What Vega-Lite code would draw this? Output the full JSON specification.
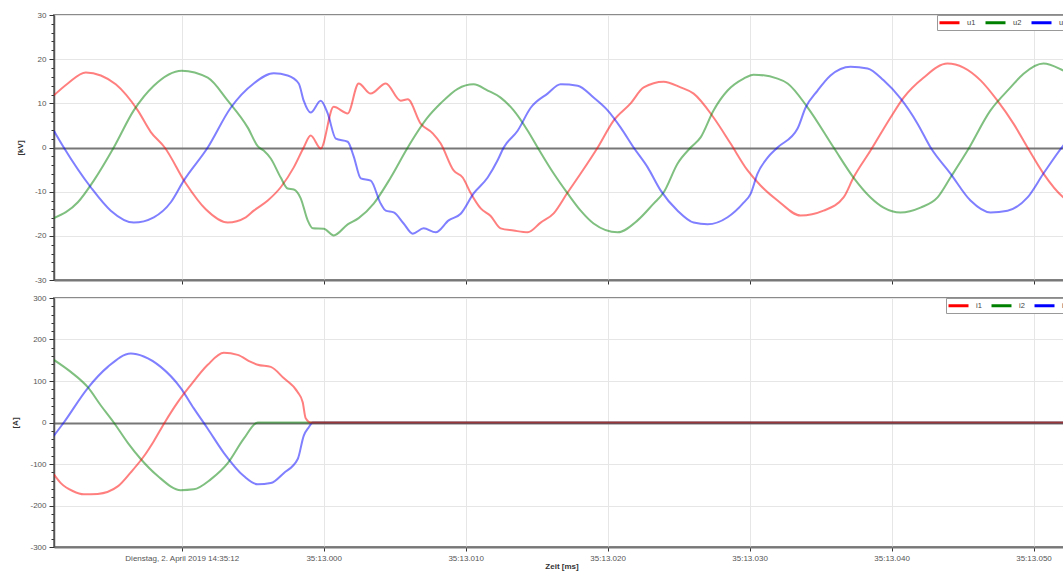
{
  "$schema": "https://vega.github.io/schema/vega-lite/v6.json",
  "background": "white",
  "padding": {"left": 10, "top": 10, "right": 0, "bottom": 0},
  "spacing": 7,
  "config": {
    "view": {"stroke": "#8a8a8a", "strokeWidth": 2},
    "axis": {
      "labelFont": "Liberation Sans", "labelFontSize": 8, "labelColor": "#555",
      "titleFont": "Liberation Sans", "titleFontSize": 8, "titleFontWeight": "bold", "titleColor": "#333",
      "domainColor": "#666", "tickColor": "#333", "gridColor": "#e6e6e6"
    },
    "legend": {
      "orient": "top-right", "direction": "horizontal", "offset": 0, "title": null,
      "symbolType": "M-2,0H2", "symbolStrokeWidth": 3, "symbolSize": 100, "symbolOpacity": 1, "symbolOffset": 5,
      "labelFont": "Liberation Sans", "labelFontSize": 7.5, "labelColor": "#444", "labelOffset": 11,
      "columnPadding": 3, "rowPadding": 0, "strokeColor": "#999", "fillColor": "white", "padding": 1
    }
  },
  "resolve": {"scale": {"color": "independent", "y": "independent"}, "legend": {"color": "independent"}},
  "datasets": {
    "w": [
      {"p":"U","s":"u1","t":-19.01,"v":11.8},{"p":"U","s":"u1","t":-18.03,"v":14.5},{"p":"U","s":"u1","t":-16.76,"v":17.0},{"p":"U","s":"u1","t":-15.70,"v":16.3},{"p":"U","s":"u1","t":-14.65,"v":14.3},{"p":"U","s":"u1","t":-13.10,"v":8.4},{"p":"U","s":"u1","t":-12.18,"v":3.5},{"p":"U","s":"u1","t":-11.20,"v":0},{"p":"U","s":"u1","t":-9.72,"v":-8.1},{"p":"U","s":"u1","t":-8.31,"v":-14.0},{"p":"U","s":"u1","t":-6.76,"v":-17.0},{"p":"U","s":"u1","t":-5.49,"v":-15.8},{"p":"U","s":"u1","t":-4.93,"v":-14.3},{"p":"U","s":"u1","t":-3.94,"v":-12.0},{"p":"U","s":"u1","t":-3.03,"v":-9.0},{"p":"U","s":"u1","t":-2.11,"v":-4.5},{"p":"U","s":"u1","t":-1.41,"v":0},{"p":"U","s":"u1","t":-0.92,"v":2.7},{"p":"U","s":"u1","t":-0.21,"v":-0.2},{"p":"U","s":"u1","t":0.70,"v":9.2},{"p":"U","s":"u1","t":1.69,"v":7.7},{"p":"U","s":"u1","t":2.46,"v":14.5},{"p":"U","s":"u1","t":3.31,"v":12.2},{"p":"U","s":"u1","t":4.37,"v":14.5},{"p":"U","s":"u1","t":5.42,"v":10.6},{"p":"U","s":"u1","t":5.92,"v":10.9},{"p":"U","s":"u1","t":6.83,"v":5.4},{"p":"U","s":"u1","t":7.68,"v":3.2},{"p":"U","s":"u1","t":8.24,"v":0.9},{"p":"U","s":"u1","t":9.15,"v":-5.2},{"p":"U","s":"u1","t":9.79,"v":-6.8},{"p":"U","s":"u1","t":10.35,"v":-10.3},{"p":"U","s":"u1","t":11.06,"v":-13.8},{"p":"U","s":"u1","t":11.76,"v":-15.5},{"p":"U","s":"u1","t":12.46,"v":-18.3},{"p":"U","s":"u1","t":13.38,"v":-18.8},{"p":"U","s":"u1","t":14.37,"v":-19.2},{"p":"U","s":"u1","t":15.28,"v":-17.0},{"p":"U","s":"u1","t":16.20,"v":-14.9},{"p":"U","s":"u1","t":17.18,"v":-10.2},{"p":"U","s":"u1","t":18.10,"v":-5.9},{"p":"U","s":"u1","t":19.30,"v":0},{"p":"U","s":"u1","t":20.42,"v":6.1},{"p":"U","s":"u1","t":21.62,"v":10.0},{"p":"U","s":"u1","t":22.54,"v":13.6},{"p":"U","s":"u1","t":23.94,"v":14.9},{"p":"U","s":"u1","t":25.14,"v":13.6},{"p":"U","s":"u1","t":26.06,"v":12.2},{"p":"U","s":"u1","t":27.46,"v":6.8},{"p":"U","s":"u1","t":28.66,"v":0.9},{"p":"U","s":"u1","t":29.86,"v":-5.2},{"p":"U","s":"u1","t":30.77,"v":-8.6},{"p":"U","s":"u1","t":31.97,"v":-12.0},{"p":"U","s":"u1","t":33.59,"v":-15.4},{"p":"U","s":"u1","t":35.21,"v":-14.3},{"p":"U","s":"u1","t":36.62,"v":-11.3},{"p":"U","s":"u1","t":37.32,"v":-6.8},{"p":"U","s":"u1","t":38.52,"v":-0.7},{"p":"U","s":"u1","t":39.93,"v":6.8},{"p":"U","s":"u1","t":40.85,"v":11.3},{"p":"U","s":"u1","t":42.25,"v":15.8},{"p":"U","s":"u1","t":43.94,"v":19.0},{"p":"U","s":"u1","t":45.07,"v":18.1},{"p":"U","s":"u1","t":46.27,"v":15.2},{"p":"U","s":"u1","t":47.46,"v":10.6},{"p":"U","s":"u1","t":48.59,"v":5.4},{"p":"U","s":"u1","t":49.58,"v":0},{"p":"U","s":"u1","t":50.70,"v":-5.9},{"p":"U","s":"u1","t":52.11,"v":-11.3},{"p":"U","s":"u1","t":52.5,"v":-12.2},

      {"p":"U","s":"u2","t":-19.01,"v":-16.0},{"p":"U","s":"u2","t":-17.32,"v":-12.4},{"p":"U","s":"u2","t":-16.20,"v":-7.5},{"p":"U","s":"u2","t":-14.79,"v":0},{"p":"U","s":"u2","t":-13.38,"v":8.4},{"p":"U","s":"u2","t":-11.97,"v":14.0},{"p":"U","s":"u2","t":-10.00,"v":17.4},{"p":"U","s":"u2","t":-8.17,"v":15.8},{"p":"U","s":"u2","t":-6.76,"v":10.6},{"p":"U","s":"u2","t":-5.35,"v":4.5},{"p":"U","s":"u2","t":-4.65,"v":0.3},{"p":"U","s":"u2","t":-4.23,"v":-0.7},{"p":"U","s":"u2","t":-3.73,"v":-2.5},{"p":"U","s":"u2","t":-3.03,"v":-6.8},{"p":"U","s":"u2","t":-2.54,"v":-9.3},{"p":"U","s":"u2","t":-2.11,"v":-9.5},{"p":"U","s":"u2","t":-1.62,"v":-11.5},{"p":"U","s":"u2","t":-1.13,"v":-16.5},{"p":"U","s":"u2","t":-0.77,"v":-18.3},{"p":"U","s":"u2","t":0,"v":-18.4},{"p":"U","s":"u2","t":0.70,"v":-19.9},{"p":"U","s":"u2","t":1.69,"v":-17.4},{"p":"U","s":"u2","t":2.46,"v":-16.0},{"p":"U","s":"u2","t":3.52,"v":-12.7},{"p":"U","s":"u2","t":4.72,"v":-6.8},{"p":"U","s":"u2","t":5.92,"v":0},{"p":"U","s":"u2","t":7.32,"v":6.8},{"p":"U","s":"u2","t":8.24,"v":10.0},{"p":"U","s":"u2","t":9.44,"v":13.3},{"p":"U","s":"u2","t":10.56,"v":14.3},{"p":"U","s":"u2","t":11.55,"v":12.9},{"p":"U","s":"u2","t":12.46,"v":11.3},{"p":"U","s":"u2","t":13.38,"v":8.4},{"p":"U","s":"u2","t":14.37,"v":3.8},{"p":"U","s":"u2","t":15.07,"v":0},{"p":"U","s":"u2","t":16.20,"v":-5.9},{"p":"U","s":"u2","t":17.18,"v":-10.4},{"p":"U","s":"u2","t":18.10,"v":-14.3},{"p":"U","s":"u2","t":19.01,"v":-17.2},{"p":"U","s":"u2","t":20.70,"v":-19.2},{"p":"U","s":"u2","t":22.11,"v":-16.5},{"p":"U","s":"u2","t":23.24,"v":-12.7},{"p":"U","s":"u2","t":23.94,"v":-10.2},{"p":"U","s":"u2","t":24.93,"v":-3.6},{"p":"U","s":"u2","t":25.85,"v":0},{"p":"U","s":"u2","t":26.55,"v":2.3},{"p":"U","s":"u2","t":27.46,"v":8.4},{"p":"U","s":"u2","t":28.45,"v":12.9},{"p":"U","s":"u2","t":29.58,"v":15.6},{"p":"U","s":"u2","t":30.28,"v":16.5},{"p":"U","s":"u2","t":31.97,"v":15.6},{"p":"U","s":"u2","t":32.68,"v":14.5},{"p":"U","s":"u2","t":34.08,"v":9.1},{"p":"U","s":"u2","t":35.92,"v":0},{"p":"U","s":"u2","t":37.32,"v":-6.8},{"p":"U","s":"u2","t":38.52,"v":-11.3},{"p":"U","s":"u2","t":39.44,"v":-13.6},{"p":"U","s":"u2","t":40.63,"v":-14.7},{"p":"U","s":"u2","t":42.04,"v":-13.6},{"p":"U","s":"u2","t":43.24,"v":-11.3},{"p":"U","s":"u2","t":44.15,"v":-6.8},{"p":"U","s":"u2","t":45.35,"v":-0.7},{"p":"U","s":"u2","t":46.97,"v":8.4},{"p":"U","s":"u2","t":48.38,"v":13.6},{"p":"U","s":"u2","t":49.30,"v":16.7},{"p":"U","s":"u2","t":50.70,"v":19.0},{"p":"U","s":"u2","t":52.11,"v":17.4},{"p":"U","s":"u2","t":52.5,"v":16.8},

      {"p":"U","s":"u3","t":-19.01,"v":3.8},{"p":"U","s":"u3","t":-18.31,"v":0},{"p":"U","s":"u3","t":-16.41,"v":-9.0},{"p":"U","s":"u3","t":-15.00,"v":-14.3},{"p":"U","s":"u3","t":-13.38,"v":-17.0},{"p":"U","s":"u3","t":-11.97,"v":-15.8},{"p":"U","s":"u3","t":-10.77,"v":-12.4},{"p":"U","s":"u3","t":-9.86,"v":-7.5},{"p":"U","s":"u3","t":-8.17,"v":0},{"p":"U","s":"u3","t":-6.55,"v":9.0},{"p":"U","s":"u3","t":-4.93,"v":14.5},{"p":"U","s":"u3","t":-3.52,"v":16.8},{"p":"U","s":"u3","t":-2.54,"v":16.3},{"p":"U","s":"u3","t":-1.76,"v":14.5},{"p":"U","s":"u3","t":-1.41,"v":10.6},{"p":"U","s":"u3","t":-0.92,"v":7.9},{"p":"U","s":"u3","t":-0.21,"v":10.6},{"p":"U","s":"u3","t":0.28,"v":7.7},{"p":"U","s":"u3","t":0.85,"v":2.0},{"p":"U","s":"u3","t":1.69,"v":1.3},{"p":"U","s":"u3","t":2.11,"v":-2.0},{"p":"U","s":"u3","t":2.61,"v":-7.0},{"p":"U","s":"u3","t":3.31,"v":-7.5},{"p":"U","s":"u3","t":4.01,"v":-12.7},{"p":"U","s":"u3","t":4.37,"v":-14.3},{"p":"U","s":"u3","t":4.93,"v":-14.7},{"p":"U","s":"u3","t":5.63,"v":-17.2},{"p":"U","s":"u3","t":6.27,"v":-19.5},{"p":"U","s":"u3","t":7.04,"v":-18.3},{"p":"U","s":"u3","t":7.89,"v":-19.2},{"p":"U","s":"u3","t":8.80,"v":-16.5},{"p":"U","s":"u3","t":9.65,"v":-15.0},{"p":"U","s":"u3","t":10.56,"v":-10.4},{"p":"U","s":"u3","t":11.55,"v":-6.8},{"p":"U","s":"u3","t":12.25,"v":-2.9},{"p":"U","s":"u3","t":12.68,"v":0},{"p":"U","s":"u3","t":13.66,"v":3.8},{"p":"U","s":"u3","t":14.58,"v":9.0},{"p":"U","s":"u3","t":15.77,"v":12.2},{"p":"U","s":"u3","t":16.69,"v":14.3},{"p":"U","s":"u3","t":17.89,"v":14.0},{"p":"U","s":"u3","t":19.01,"v":11.3},{"p":"U","s":"u3","t":20.00,"v":8.4},{"p":"U","s":"u3","t":20.92,"v":4.5},{"p":"U","s":"u3","t":21.83,"v":0},{"p":"U","s":"u3","t":22.82,"v":-4.5},{"p":"U","s":"u3","t":23.73,"v":-9.7},{"p":"U","s":"u3","t":24.93,"v":-14.3},{"p":"U","s":"u3","t":26.06,"v":-17.0},{"p":"U","s":"u3","t":27.04,"v":-17.4},{"p":"U","s":"u3","t":28.45,"v":-15.8},{"p":"U","s":"u3","t":29.58,"v":-12.5},{"p":"U","s":"u3","t":30.07,"v":-10.5},{"p":"U","s":"u3","t":30.56,"v":-5.9},{"p":"U","s":"u3","t":31.27,"v":-2.3},{"p":"U","s":"u3","t":31.97,"v":0},{"p":"U","s":"u3","t":33.38,"v":4.3},{"p":"U","s":"u3","t":33.94,"v":9.0},{"p":"U","s":"u3","t":34.79,"v":12.9},{"p":"U","s":"u3","t":35.70,"v":16.3},{"p":"U","s":"u3","t":37.11,"v":18.3},{"p":"U","s":"u3","t":38.31,"v":17.9},{"p":"U","s":"u3","t":39.44,"v":15.2},{"p":"U","s":"u3","t":40.63,"v":11.1},{"p":"U","s":"u3","t":41.83,"v":5.4},{"p":"U","s":"u3","t":42.75,"v":0},{"p":"U","s":"u3","t":44.15,"v":-5.9},{"p":"U","s":"u3","t":45.56,"v":-12.0},{"p":"U","s":"u3","t":46.97,"v":-14.7},{"p":"U","s":"u3","t":48.17,"v":-14.3},{"p":"U","s":"u3","t":49.58,"v":-11.3},{"p":"U","s":"u3","t":50.70,"v":-5.9},{"p":"U","s":"u3","t":52.11,"v":0.5},{"p":"U","s":"u3","t":52.5,"v":2.0},

      {"p":"I","s":"i3","t":-19.01,"v":-32},{"p":"I","s":"i3","t":-18.31,"v":0},{"p":"I","s":"i3","t":-16.62,"v":83},{"p":"I","s":"i3","t":-15.21,"v":134},{"p":"I","s":"i3","t":-13.59,"v":166},{"p":"I","s":"i3","t":-12.68,"v":159},{"p":"I","s":"i3","t":-11.48,"v":134},{"p":"I","s":"i3","t":-10.07,"v":83},{"p":"I","s":"i3","t":-9.15,"v":34},{"p":"I","s":"i3","t":-8.17,"v":-15},{"p":"I","s":"i3","t":-7.04,"v":-73},{"p":"I","s":"i3","t":-5.63,"v":-129},{"p":"I","s":"i3","t":-4.65,"v":-149},{"p":"I","s":"i3","t":-3.73,"v":-146},{"p":"I","s":"i3","t":-2.82,"v":-122},{"p":"I","s":"i3","t":-1.83,"v":-88},{"p":"I","s":"i3","t":-1.41,"v":-32},{"p":"I","s":"i3","t":-1.06,"v":-12},{"p":"I","s":"i3","t":-0.77,"v":0},{"p":"I","s":"i3","t":52.5,"v":0},

      {"p":"I","s":"i2","t":-19.01,"v":151},{"p":"I","s":"i2","t":-17.82,"v":122},{"p":"I","s":"i2","t":-16.62,"v":85},{"p":"I","s":"i2","t":-15.70,"v":41},{"p":"I","s":"i2","t":-14.79,"v":0},{"p":"I","s":"i2","t":-13.80,"v":-49},{"p":"I","s":"i2","t":-12.89,"v":-88},{"p":"I","s":"i2","t":-11.69,"v":-129},{"p":"I","s":"i2","t":-10.07,"v":-163},{"p":"I","s":"i2","t":-9.15,"v":-161},{"p":"I","s":"i2","t":-7.96,"v":-137},{"p":"I","s":"i2","t":-6.76,"v":-98},{"p":"I","s":"i2","t":-5.63,"v":-39},{"p":"I","s":"i2","t":-4.65,"v":0},{"p":"I","s":"i2","t":52.5,"v":0},

      {"p":"I","s":"i1","t":-19.01,"v":-125},{"p":"I","s":"i1","t":-18.52,"v":-146},{"p":"I","s":"i1","t":-17.68,"v":-165},{"p":"I","s":"i1","t":-16.90,"v":-173},{"p":"I","s":"i1","t":-15.92,"v":-172},{"p":"I","s":"i1","t":-14.51,"v":-154},{"p":"I","s":"i1","t":-13.59,"v":-120},{"p":"I","s":"i1","t":-12.68,"v":-82},{"p":"I","s":"i1","t":-11.97,"v":-45},{"p":"I","s":"i1","t":-11.20,"v":0},{"p":"I","s":"i1","t":-10.28,"v":49},{"p":"I","s":"i1","t":-9.37,"v":90},{"p":"I","s":"i1","t":-8.17,"v":139},{"p":"I","s":"i1","t":-7.04,"v":168},{"p":"I","s":"i1","t":-6.06,"v":163},{"p":"I","s":"i1","t":-5.14,"v":146},{"p":"I","s":"i1","t":-4.65,"v":139},{"p":"I","s":"i1","t":-3.73,"v":134},{"p":"I","s":"i1","t":-2.82,"v":107},{"p":"I","s":"i1","t":-1.83,"v":73},{"p":"I","s":"i1","t":-1.48,"v":49},{"p":"I","s":"i1","t":-1.27,"v":10},{"p":"I","s":"i1","t":-0.92,"v":0},{"p":"I","s":"i1","t":52.5,"v":0}
    ]
  },
  "vconcat": [
    {
      "width": 1015, "height": 265,
      "data": {"name": "w"},
      "transform": [{"filter": "datum.p == 'U'"}],
      "mark": {"type": "line", "strokeWidth": 2, "opacity": 0.5, "clip": true, "interpolate": "monotone"},
      "encoding": {
        "x": {"field": "t", "type": "quantitative", "scale": {"domain": [-19, 52.5], "nice": false, "zero": false},
          "axis": {"values": [-10, 0, 10, 20, 30, 40, 50], "labels": false, "title": null, "tickSize": 4, "domainColor": "#777", "domainWidth": 2, "grid": true}},
        "y": {"field": "v", "type": "quantitative", "scale": {"domain": [-30, 30], "nice": false, "zero": false},
          "axis": {"title": "[kV]", "titlePadding": 10,
            "values": [-30,-28,-26,-24,-22,-20,-18,-16,-14,-12,-10,-8,-6,-4,-2,0,2,4,6,8,10,12,14,16,18,20,22,24,26,28,30],
            "labelExpr": "datum.value % 10 === 0 ? '' + datum.value : ''",
            "labelOverlap": false, "labelPadding": 3,
            "tickSize": {"condition": {"test": "datum.value % 10 === 0", "value": 5}, "value": 3},
            "gridColor": {"condition": {"test": "datum.value === 0", "value": "#777777"}, "value": "#e6e6e6"},
            "gridWidth": {"condition": {"test": "datum.value === 0", "value": 2}, "value": 1},
            "gridOpacity": {"condition": {"test": "datum.value % 10 === 0", "value": 1}, "value": 0},
            "domainColor": "#555", "domainWidth": 1.5}},
        "color": {"field": "s", "type": "nominal", "scale": {"domain": ["u1", "u2", "u3"], "range": ["#ff0000", "#008000", "#0000ff"]}}
      }
    },
    {
      "width": 1015, "height": 249,
      "data": {"name": "w"},
      "transform": [{"filter": "datum.p == 'I'"}],
      "mark": {"type": "line", "strokeWidth": 2, "opacity": 0.5, "clip": true, "interpolate": "monotone"},
      "encoding": {
        "x": {"field": "t", "type": "quantitative", "scale": {"domain": [-19, 52.5], "nice": false, "zero": false},
          "axis": {"values": [-10, 0, 10, 20, 30, 40, 50], "title": "Zeit [ms]", "titlePadding": 0, "tickSize": 4, "labelPadding": 3,
            "labelExpr": "datum.value === -10 ? 'Dienstag, 2. April 2019 14:35:12' : '35:13.0' + (datum.value < 10 ? '0' : '') + datum.value",
            "domainColor": "#777", "domainWidth": 2, "grid": true}},
        "y": {"field": "v", "type": "quantitative", "scale": {"domain": [-300, 300], "nice": false, "zero": false},
          "axis": {"title": "[A]", "titlePadding": 10,
            "values": [-300,-280,-260,-240,-220,-200,-180,-160,-140,-120,-100,-80,-60,-40,-20,0,20,40,60,80,100,120,140,160,180,200,220,240,260,280,300],
            "labelExpr": "datum.value % 100 === 0 ? '' + datum.value : ''",
            "labelOverlap": false, "labelPadding": 3,
            "tickSize": {"condition": {"test": "datum.value % 100 === 0", "value": 5}, "value": 3},
            "gridColor": {"condition": {"test": "datum.value === 0", "value": "#777777"}, "value": "#e6e6e6"},
            "gridWidth": {"condition": {"test": "datum.value === 0", "value": 2}, "value": 1},
            "gridOpacity": {"condition": {"test": "datum.value % 100 === 0", "value": 1}, "value": 0},
            "domainColor": "#555", "domainWidth": 1.5}},
        "color": {"field": "s", "type": "nominal", "scale": {"domain": ["i1", "i2", "i3"], "range": ["#ff0000", "#008000", "#0000ff"]}}
      }
    }
  ]
}
